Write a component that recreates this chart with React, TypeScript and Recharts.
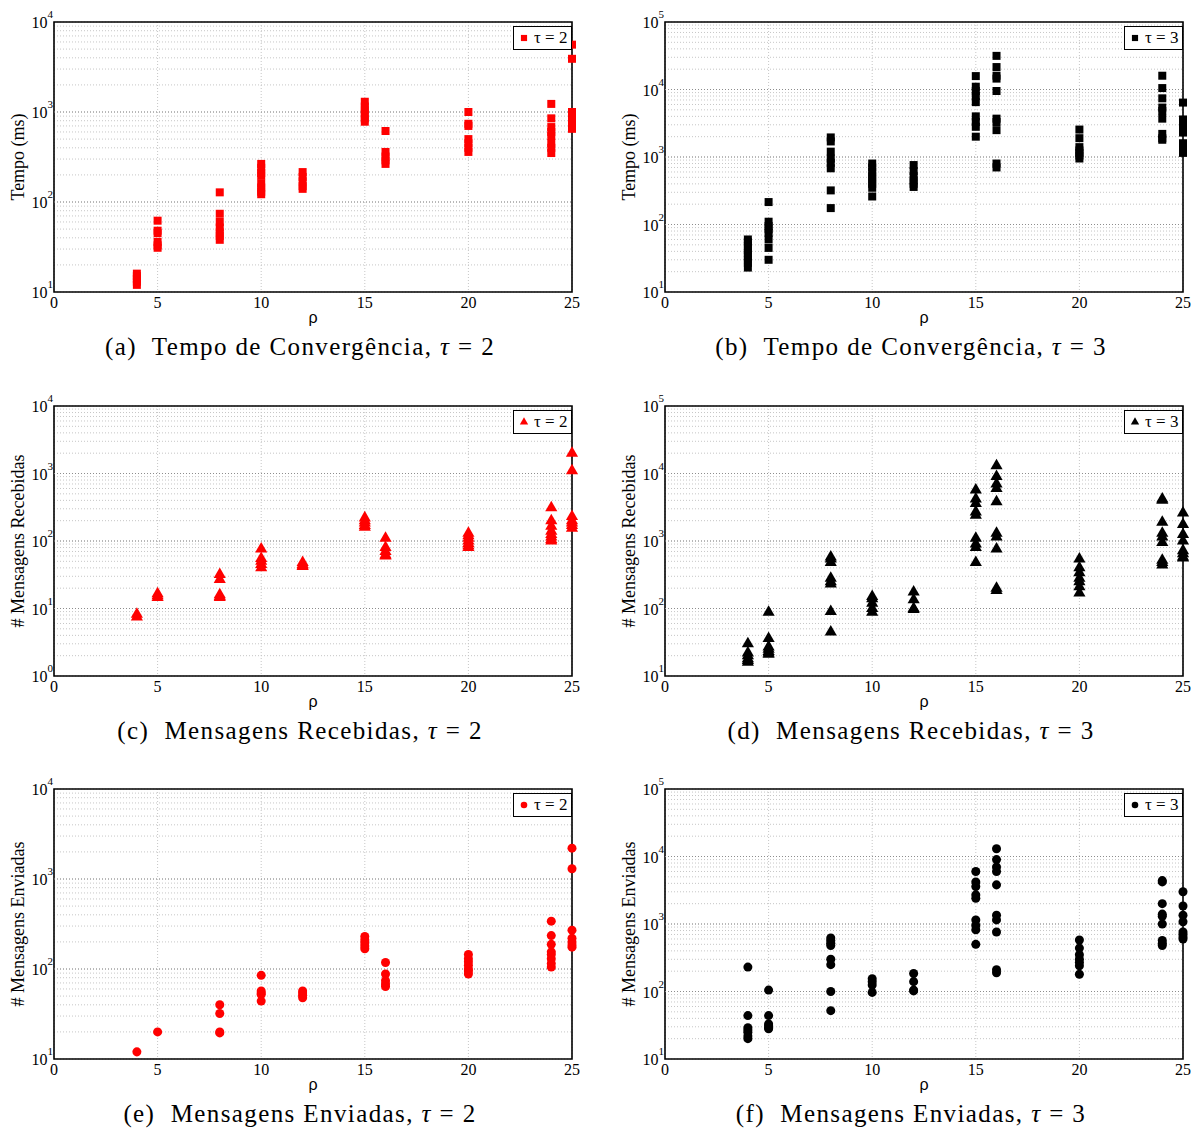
import React from 'react';
import {
  ScatterChart,
  Scatter,
  XAxis,
  YAxis,
  ZAxis,
  CartesianGrid,
  ReferenceLine,
  ReferenceArea,
  Legend,
  Symbols,
} from 'recharts';

// rho values on the x axis (each series lists its runs per rho, in this order)
const RHO = [4, 5, 8, 10, 12, 15, 16, 20, 24, 25];
const X_TICKS = [0, 5, 10, 15, 20, 25];

// (a) convergence time, tau = 2 (ms)
const TEMPO_T2 = [
  [16, 15, 14, 13, 12],
  [62, 48, 45, 36, 33, 31],
  [128, 74, 60, 52, 46, 42, 38],
  [265, 240, 210, 195, 160, 145, 130, 122],
  [215, 190, 170, 150, 140],
  [1300, 1150, 1050, 950, 850, 780],
  [615, 360, 320, 290, 265],
  [1000, 740, 700, 500, 450, 400, 360],
  [1230, 850, 680, 600, 540, 450, 400, 350],
  [5600, 3900, 1000, 850, 780, 700, 650],
];

// (b) convergence time, tau = 3 (ms)
const TEMPO_T3 = [
  [60, 55, 48, 42, 38, 34, 30, 27, 23],
  [215, 110, 95, 85, 75, 60, 45, 30],
  [1950, 1700, 1200, 950, 820, 680, 320, 175],
  [800, 700, 600, 520, 460, 400, 350, 260],
  [760, 620, 520, 450, 400, 360],
  [15800, 11000, 9500, 8000, 6500, 4000, 3300, 2800, 2000],
  [31500, 21500, 16000, 14500, 9500, 3700, 3300, 2500, 800, 700],
  [2550, 1900, 1400, 1250, 1150, 1050, 950],
  [16000, 10500, 7400, 5400, 4800, 3700, 2200, 1900, 1800],
  [6400, 3600, 3200, 2900, 2300, 1600, 1400, 1250, 1150],
];

// (c) received messages, tau = 2
const RECEB_T2 = [
  [8.2, 7.5],
  [16.5, 15.5, 14.5],
  [32, 27, 16, 15, 14.5],
  [76, 55, 50, 45, 40],
  [48, 45, 43, 42],
  [220, 200, 185, 170, 160],
  [110, 80, 70, 62, 60],
  [130, 120, 110, 100, 92, 85, 80],
  [310, 200, 165, 140, 125, 115, 105, 100],
  [2000, 1100, 230, 200, 185, 170, 155],
];

// (d) received messages, tau = 3
const RECEB_T3 = [
  [30, 22, 20, 18, 17, 16],
  [88, 36, 27, 25, 23, 22, 21],
  [580, 540, 480, 280, 250, 230, 90, 45],
  [150, 140, 120, 100, 88],
  [175, 135, 100, 97],
  [5700, 4200, 3600, 2700, 2400, 1100, 900, 800, 480],
  [13000, 9000, 7000, 6000, 3800, 1300, 1150, 760, 200, 185],
  [540, 400, 340, 280, 250, 210, 170],
  [4200, 4000, 1900, 1300, 1150, 950, 520, 480, 440],
  [2600, 1750, 1250, 1000, 720, 650, 580, 560],
];

// (e) sent messages, tau = 2
const ENV_T2 = [
  [12],
  [20],
  [40, 32, 20, 19.5],
  [85, 57, 54, 52, 44],
  [57, 54, 51, 48],
  [230, 210, 195, 180, 168],
  [118, 88, 74, 68, 64],
  [145, 130, 120, 110, 100, 95, 88],
  [340, 235, 188, 155, 145, 130, 115, 105],
  [2200, 1300, 270, 220, 200, 185, 175],
];

// (f) sent messages, tau = 3
const ENV_T3 = [
  [230, 44, 29, 27, 25, 22, 20],
  [105, 44, 33, 31, 29, 28],
  [620, 570, 520, 480, 300, 250, 100, 52],
  [155, 140, 125, 97],
  [185, 140, 105, 102],
  [6000, 4200, 3600, 2700, 2400, 1150, 950, 820, 500],
  [13000, 9000, 7000, 6000, 3800, 1350, 1150, 760, 210, 190],
  [580, 440, 350, 300, 270, 240, 180],
  [4400, 4200, 2000, 1400, 1300, 1000, 570, 520, 480],
  [3000, 1850, 1350, 1080, 760, 700, 640, 600],
];

const SERIF = 'Liberation Serif, serif';
const SANS = 'Liberation Sans, sans-serif';

// plot box sits 20px below the top of each chart
const PLOT_TOP = 20;
const PLOT_H = 270;

const toPoints = (groups: number[][]) =>
  groups.flatMap((vals, i) => vals.map((v) => ({ rho: RHO[i], value: v })));

// 1..9 x 10^e for every decade, plus the top decade
const logTicks = (lo: number, hi: number) => {
  const out: number[] = [];
  for (let e = lo; e < hi; e++) {
    for (let k = 1; k < 10; k++) out.push(k * Math.pow(10, e));
  }
  out.push(Math.pow(10, hi));
  return out;
};

const PowTick = (props: any) => {
  const { x, y, payload } = props;
  const v = payload.value;
  const exp = Math.round(Math.log10(v));
  if (Math.abs(v - Math.pow(10, exp)) > 1e-6 * v) return null;
  return (
    <text x={x} y={y + 6} textAnchor="end" style={{ fontFamily: SERIF, fontSize: 16 }} fill="#000">
      10
      <tspan style={{ fontSize: 11 }} dy={-10}>
        {exp}
      </tspan>
    </text>
  );
};

const XTick = (props: any) => {
  const { x, y, payload } = props;
  return (
    <text x={x} y={y + 13} textAnchor="middle" style={{ fontFamily: SERIF, fontSize: 16 }} fill="#000">
      {payload.value}
    </text>
  );
};

type PanelProps = {
  left: number;
  top: number;
  groups: number[][];
  expLo: number;
  expHi: number;
  color: string;
  shape: 'square' | 'triangle' | 'circle';
  size: number;
  yLabel: string;
  tau: number;
  tag: string;
  title: string;
};

const Panel: React.FC<PanelProps> = ({ left, top, groups, expLo, expHi, color, shape, size, yLabel, tau, tag, title }) => {
  const data = toPoints(groups);
  const lo = Math.pow(10, expLo);
  const hi = Math.pow(10, expHi);
  const ticks = logTicks(expLo, expHi);
  const inner = [];
  for (let e = expLo + 1; e < expHi; e++) inner.push(Math.pow(10, e));
  const midY = PLOT_TOP + PLOT_H / 2;

  return (
    <div style={{ position: 'absolute', left, top: top - PLOT_TOP, width: 600, height: 360 }}>
      <ScatterChart width={584} height={PLOT_TOP + PLOT_H + 40} margin={{ top: PLOT_TOP, right: 12, bottom: 0, left: 0 }}>
        <CartesianGrid stroke="#c6c6c6" strokeDasharray="1 2" />
        {inner.map((d) => (
          <ReferenceLine key={d} y={d} stroke="#8c8c8c" strokeDasharray="1 2" />
        ))}
        <XAxis
          type="number"
          dataKey="rho"
          domain={[0, 25]}
          ticks={X_TICKS}
          interval={0}
          tickLine={false}
          axisLine={false}
          tickSize={0}
          tickMargin={3}
          height={40}
          tick={<XTick />}
          label={() => (
            <text x={313} y={PLOT_TOP + PLOT_H + 31} textAnchor="middle" style={{ fontFamily: SANS, fontSize: 16 }} fill="#000">
              ρ
            </text>
          )}
        />
        <YAxis
          type="number"
          dataKey="value"
          scale="log"
          domain={[lo, hi]}
          ticks={ticks}
          interval={0}
          width={54}
          tickLine={false}
          axisLine={false}
          tickSize={0}
          tickMargin={1}
          tick={<PowTick />}
          label={() => (
            <text
              x={18}
              y={midY}
              transform={`rotate(-90 18 ${midY})`}
              textAnchor="middle"
              dominantBaseline="central"
              style={{ fontFamily: SERIF, fontSize: 18 }}
              fill="#000"
            >
              {yLabel}
            </text>
          )}
        />
        <ZAxis type="number" range={[size, size]} />
        <ReferenceArea x1={0} x2={25} y1={lo} y2={hi} fill="none" fillOpacity={0} stroke="#000" strokeWidth={1.6} />
        <Scatter data={data} fill={color} shape={shape} isAnimationActive={false} />
        <Legend
          verticalAlign="middle"
          align="center"
          layout="horizontal"
          wrapperStyle={{ top: PLOT_TOP + 4, left: 513, width: 59, height: 24 }}
          content={() => (
            <div
              style={{
                boxSizing: 'border-box',
                width: 59,
                height: 24,
                border: '1.5px solid #000',
                background: '#fff',
                display: 'flex',
                alignItems: 'center',
                fontFamily: SERIF,
                fontSize: 17,
                color: '#000',
              }}
            >
              <svg width={20} height={20} style={{ flex: 'none' }}>
                <Symbols cx={10} cy={10} type={shape} size={size} fill={color} />
              </svg>
              <span style={{ whiteSpace: 'nowrap' }}>τ = {tau}</span>
            </div>
          )}
        />
      </ScatterChart>
      <div
        style={{
          position: 'absolute',
          left: 0,
          width: 600,
          top: PLOT_TOP + 314,
          height: 22,
          lineHeight: '22px',
          textAlign: 'center',
          fontFamily: SERIF,
          fontSize: 25,
          letterSpacing: 1.4,
          color: '#000',
          whiteSpace: 'nowrap',
        }}
      >
        ({tag})&nbsp; {title}, <i>τ</i> = {tau}
      </div>
    </div>
  );
};

const App: React.FC = () => {
  return (
    <div style={{ position: 'absolute', left: 0, top: 0, width: 1191, height: 1129, overflow: 'hidden', background: '#fff' }}>
      <Panel left={0} top={22} groups={TEMPO_T2} expLo={1} expHi={4} color="#ff0000" shape="square" size={38} yLabel="Tempo (ms)" tau={2} tag="a" title="Tempo de Convergência" />
      <Panel left={611} top={22} groups={TEMPO_T3} expLo={1} expHi={5} color="#000000" shape="square" size={38} yLabel="Tempo (ms)" tau={3} tag="b" title="Tempo de Convergência" />
      <Panel left={0} top={406} groups={RECEB_T2} expLo={0} expHi={4} color="#ff0000" shape="triangle" size={30} yLabel="# Mensagens Recebidas" tau={2} tag="c" title="Mensagens Recebidas" />
      <Panel left={611} top={406} groups={RECEB_T3} expLo={1} expHi={5} color="#000000" shape="triangle" size={30} yLabel="# Mensagens Recebidas" tau={3} tag="d" title="Mensagens Recebidas" />
      <Panel left={0} top={789} groups={ENV_T2} expLo={1} expHi={4} color="#ff0000" shape="circle" size={34} yLabel="# Mensagens Enviadas" tau={2} tag="e" title="Mensagens Enviadas" />
      <Panel left={611} top={789} groups={ENV_T3} expLo={1} expHi={5} color="#000000" shape="circle" size={34} yLabel="# Mensagens Enviadas" tau={3} tag="f" title="Mensagens Enviadas" />
    </div>
  );
};

export default App;
